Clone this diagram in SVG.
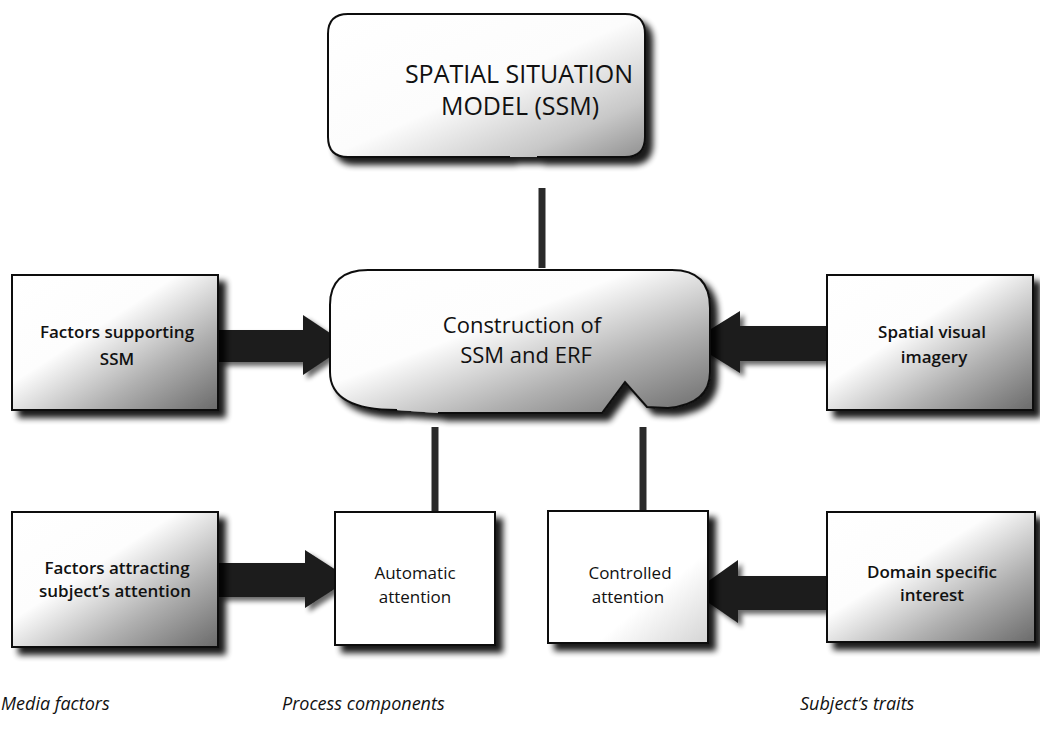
<svg xmlns="http://www.w3.org/2000/svg" width="1040" height="734" viewBox="0 0 1040 734">
<defs>
<style>
.t{font-family:"Open Sans","Liberation Sans",sans-serif;fill:#111;text-anchor:middle}
.big{font-size:25px}
.mid{font-size:22px}
.box{font-size:17px}
.sb{font-weight:600}
.lab{font-family:"Open Sans","Liberation Sans",sans-serif;font-size:18px;font-style:italic;fill:#111}
.edge{stroke:#111;stroke-width:2}
.arrow{fill:#1c1c1c}
.link{stroke:#2a2a2a;stroke-width:7;fill:none}
</style>
<filter id="sh" x="-10%" y="-10%" width="130%" height="135%">
<feGaussianBlur in="SourceAlpha" stdDeviation="3"/>
<feOffset dx="7" dy="7"/>
<feComponentTransfer><feFuncA type="linear" slope="0.9"/></feComponentTransfer>
<feMerge><feMergeNode/><feMergeNode in="SourceGraphic"/></feMerge>
</filter>
<filter id="soft" x="-20%" y="-20%" width="140%" height="140%">
<feGaussianBlur in="SourceAlpha" stdDeviation="2.5"/>
<feOffset dx="4" dy="4"/>
<feComponentTransfer><feFuncA type="linear" slope="0.6"/></feComponentTransfer>
<feMerge><feMergeNode/><feMergeNode in="SourceGraphic"/></feMerge>
</filter>
<linearGradient id="gDark" x1="0" y1="0" x2="1" y2="1">
<stop offset="0" stop-color="#fff"/>
<stop offset="0.4" stop-color="#fdfdfd"/>
<stop offset="0.7" stop-color="#b0b0b0"/>
<stop offset="1" stop-color="#6a6a6a"/>
</linearGradient>
<linearGradient id="gMid" x1="0" y1="0" x2="1" y2="1">
<stop offset="0" stop-color="#fff"/>
<stop offset="0.5" stop-color="#fcfcfc"/>
<stop offset="0.8" stop-color="#c8c8c8"/>
<stop offset="1" stop-color="#909090"/>
</linearGradient>
<linearGradient id="gLight" x1="0" y1="0" x2="1" y2="1">
<stop offset="0" stop-color="#fff"/>
<stop offset="0.65" stop-color="#fff"/>
<stop offset="1" stop-color="#d4d4d4"/>
</linearGradient>
</defs>
<rect width="1040" height="734" fill="#fff"/>

<g id="connectors">
<path class="link" d="M542 188 V268"/>
<path class="link" d="M435 427 V512"/>
<path class="link" d="M643 427 V511"/>
<polygon class="arrow" filter="url(#soft)" points="218,330 303,330 303,315 348,345 303,375 303,362 218,362"/>
<polygon class="arrow" filter="url(#soft)" points="827,326 740,326 740,311 690,342 740,373 740,361 827,361"/>
<polygon class="arrow" filter="url(#soft)" points="218,563 305,563 305,550 350,579 305,608 305,597 218,597"/>
<polygon class="arrow" filter="url(#soft)" points="827,576 738,576 738,560 693,592 738,623 738,610 827,610"/>
</g>

<g id="ssm">
<path filter="url(#sh)" class="edge" fill="url(#gMid)" d="M537 157 H625 Q645 157 645 137 V34 Q645 14 625 14 H348 Q328 14 328 34 V137 Q328 157 348 157 H510"/>
<text class="t big" x="519" y="83">SPATIAL SITUATION</text>
<text class="t big" x="520" y="115">MODEL (SSM)</text>
</g>

<g id="construction">
<path filter="url(#sh)" class="edge" fill="url(#gDark)" d="M397 410 Q330 410 330 372 V305 Q330 270 368 270 H672 Q710 270 710 308 V372 Q710 404 668 408 L647 407 L625 382 L602 413 H438"/>
<text class="t mid" x="522" y="333">Construction of</text>
<text class="t mid" x="526" y="363">SSM and ERF</text>
</g>

<g id="factors-supporting">
<rect filter="url(#sh)" class="edge" fill="url(#gDark)" x="12" y="275" width="206" height="135"/>
<text class="t box sb" x="117" y="338">Factors supporting</text>
<text class="t box sb" x="117" y="365">SSM</text>
</g>

<g id="spatial-visual">
<rect filter="url(#sh)" class="edge" fill="url(#gDark)" x="827" y="275" width="206" height="135"/>
<text class="t box sb" x="932" y="338">Spatial visual</text>
<text class="t box sb" x="934" y="363">imagery</text>
</g>

<g id="factors-attracting">
<rect filter="url(#sh)" class="edge" fill="url(#gDark)" x="12" y="512" width="206" height="135"/>
<text class="t box sb" x="117" y="574">Factors attracting</text>
<text class="t box sb" x="115" y="597">subject’s attention</text>
</g>

<g id="automatic">
<rect filter="url(#sh)" class="edge" fill="#fff" x="335" y="512" width="160" height="133"/>
<text class="t box" x="415" y="579">Automatic</text>
<text class="t box" x="415" y="603">attention</text>
</g>

<g id="controlled">
<rect filter="url(#sh)" class="edge" fill="url(#gLight)" x="548" y="511" width="160" height="132"/>
<text class="t box" x="630" y="579">Controlled</text>
<text class="t box" x="628" y="603">attention</text>
</g>

<g id="domain">
<rect filter="url(#sh)" class="edge" fill="url(#gDark)" x="827" y="512" width="208" height="130"/>
<text class="t box sb" x="932" y="578">Domain specific</text>
<text class="t box sb" x="932" y="601">interest</text>
</g>

<g id="labels">
<text class="lab" x="1" y="710">Media factors</text>
<text class="lab" x="282" y="710">Process components</text>
<text class="lab" x="800" y="710">Subject’s traits</text>
</g>
</svg>
